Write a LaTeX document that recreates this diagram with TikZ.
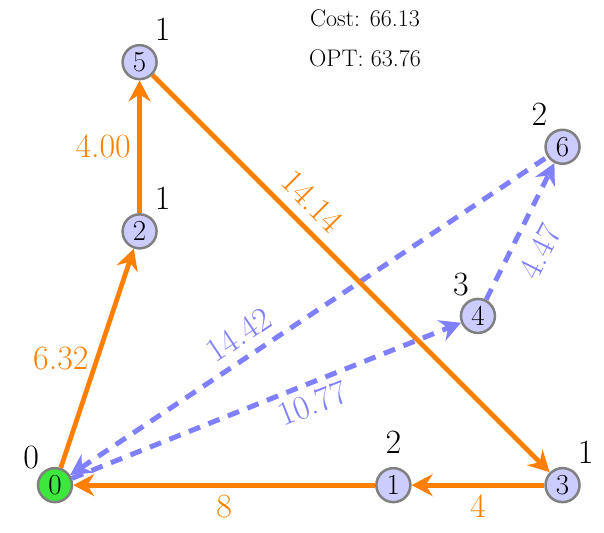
\documentclass[tikz,border=0pt]{standalone}
\usetikzlibrary{arrows.meta}
\definecolor{tourorange}{RGB}{255,128,0}
\definecolor{optblue}{RGB}{128,128,255}
\definecolor{vertexfill}{RGB}{204,204,255}
\definecolor{depotgreen}{RGB}{60,232,60}
\begin{document}
\begin{tikzpicture}[x=42.3pt,y=42.3pt,line join=round,
		>={Stealth[length=21pt,width=22pt,inset=7pt]},
		vertex/.style={circle,draw=gray,line width=2.5pt,fill=vertexfill,minimum size=34pt,inner sep=0pt,font=\fontsize{29}{29}\selectfont},
		tour/.style={draw=tourorange,line width=4.8pt,->},
		opt/.style={draw=optblue,line width=5pt,dash pattern=on 12pt off 9pt},
		lbl/.style={font=\fontsize{34}{34}\selectfont},
		every label/.style={lbl,inner sep=0pt,label distance=8pt}]
				\useasboundingbox (-1.30,-1.11) rectangle (12.98,11.47);
				\node[vertex,fill=depotgreen,label={[label distance=4pt]135:0}] (n0) at (0,0) {0};
				\node[vertex,label={[label distance=13pt]90:2}] (n1) at (8,0) {1};
				\node[vertex,label=55:1] (n2) at (2,6) {2};
				\node[vertex,label=55:1] (n3) at (12,0) {3};
				\node[vertex,label={[label distance=3pt]115:3}] (n4) at (10,4) {4};
				\node[vertex,label=55:1] (n5) at (2,10) {5};
				\node[vertex,label=125:2] (n6) at (12,8) {6};
				\node[font=\fontsize{24}{24}\selectfont] (cost) at (7.33,11.04) {Cost: 66.13};
				\node[font=\fontsize{24}{24}\selectfont] (opt) at (7.33,10.09) {OPT: 63.76};
				\draw[opt,->] (n0) -- node[lbl,text=optblue,sloped,below=2pt,pos=0.6] {10.77} (n4);
				\draw[opt,->] (n4) -- node[lbl,text=optblue,sloped,below=9pt,pos=0.44] {4.47} (n6);
				\draw[opt,<-] (n0) -- node[lbl,text=optblue,sloped,above=6pt,pos=0.38] {14.42} (n6);
				\draw[tour] (n0) -- node[lbl,text=tourorange,left=3pt] {6.32} (n2);
				\draw[tour] (n2) -- node[lbl,text=tourorange,left=3pt] {4.00} (n5);
				\draw[tour] (n5) -- node[lbl,text=tourorange,sloped,above=7pt,pos=0.36] {14.14} (n3);
				\draw[tour] (n3) -- node[lbl,text=tourorange,below=4pt] {4} (n1);
				\draw[tour] (n1) -- node[lbl,text=tourorange,below=4pt] {8} (n0);
			\end{tikzpicture}
\end{document}
